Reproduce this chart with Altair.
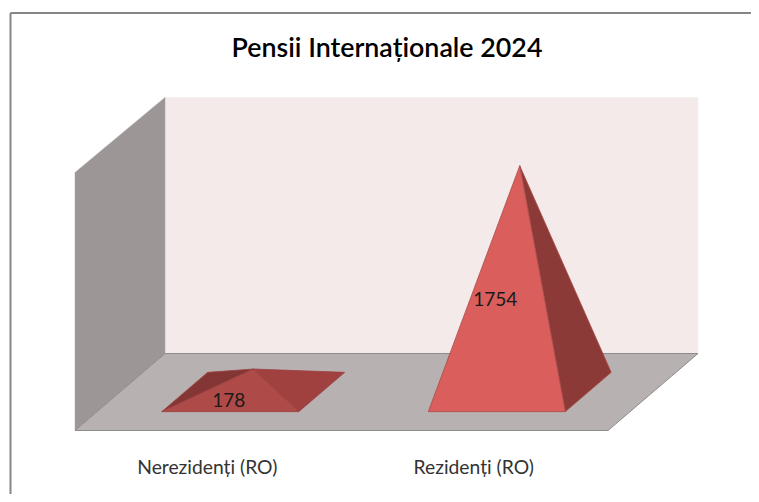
import altair as alt
import pandas as pd

TITLE = "Pensii Internaționale 2024"
CATEGORIES = ["Nerezidenți (RO)", "Rezidenți (RO)"]
VALUES = [178, 1754]
AXIS_MAX = 2000
WALL_BACK_TOP = 1985

# Oblique projection of the 3-D chart box (screen pixels per model unit)
X0, Y0 = 75, 430.5
CAT_W, DX, DY = 266.5, 90, 77
V_PX = 258 / AXIS_MAX
W, H = 743, 486
FONT = "Lato"


def xs():
    return alt.Scale(domain=[8, 8 + W], range=[0, W], nice=False, zero=False)


def ys():
    return alt.Scale(domain=[8 + H, 8], range=[H, 0], nice=False, zero=False)


def proj(cat, depth, value=0):
    return X0 + cat * CAT_W + depth * DX, Y0 - depth * DY - value * V_PX


def face(points, fill, stroke, sw=1.0):
    pts = list(points) + [points[0]]
    df = pd.DataFrame({"x": [p[0] for p in pts], "y": [p[1] for p in pts], "o": range(len(pts))})
    return alt.Chart(df).mark_line(fill=fill, stroke=stroke, strokeWidth=sw, strokeJoin="miter", clip=True).encode(
        x=alt.X("x:Q", scale=xs(), axis=None),
        y=alt.Y("y:Q", scale=ys(), axis=None),
        order=alt.Order("o:Q"),
    )


def label(text, x, y, size, color, weight="normal"):
    df = pd.DataFrame({"x": [x], "y": [y], "t": [text]})
    return alt.Chart(df).mark_text(font=FONT, fontSize=size, color=color, fontWeight=weight, align="center", baseline="middle").encode(
        x=alt.X("x:Q", scale=xs(), axis=None),
        y=alt.Y("y:Q", scale=ys(), axis=None),
        text="t:N",
    )


layers = []
# frame
layers.append(face([(10.5, 13), (10.5, 600), (900, 600), (900, 13)], "#ffffff", "#868686", 2))
# walls and floor
layers.append(face([proj(0, 1, WALL_BACK_TOP), proj(2, 1, WALL_BACK_TOP), proj(2, 1), proj(0, 1)], "#f5eaea", "#f5eaea", 0.5))
layers.append(face([proj(0, 0, AXIS_MAX), proj(0, 1, WALL_BACK_TOP), proj(0, 1), proj(0, 0)], "#9c9696", "#a8a3a3", 0.5))
layers.append(face([proj(0, 0), proj(2, 0), proj(2, 1), proj(0, 1)], "#b8b1b1", "#8f8b8b", 1))

# pyramids: [front, left, right] shades
SHADES = [
    {"front": "#ae4a48", "left": "#843634", "right": "#a04140", "edge": "#9a4241"},
    {"front": "#d95e5c", "left": "#843634", "right": "#8c3a38", "edge": "#a84b49"},
]
BASE_D = (0.245, 0.755)
BASE_HALF = 0.257
for i, (cat, v) in enumerate(zip(CATEGORIES, VALUES)):
    c = i + 0.5
    fl = proj(c - BASE_HALF, BASE_D[0])
    fr = proj(c + BASE_HALF, BASE_D[0])
    bl = proj(c - BASE_HALF, BASE_D[1])
    br = proj(c + BASE_HALF, BASE_D[1])
    apex = proj(c, sum(BASE_D) / 2, v)
    s = SHADES[i]
    if i == 0:
        layers.append(face([fl, bl, apex], s["left"], s["edge"], 0.8))
    layers.append(face([fr, br, apex], s["right"], s["edge"], 0.8))
    layers.append(face([fl, fr, apex], s["front"], s["edge"], 0.8))
    layers.append(label(str(v), apex[0] - 24.5, (fl[1] + apex[1]) / 2 + 11, 19, "#1a1a1a"))
    layers.append(label(cat, proj(c, 0)[0] - 1, 468, 19.3, "#333333"))

layers.append(label(TITLE, 387, 49, 26.8, "#000000", 600))

chart = alt.layer(*layers).properties(
    width=W, height=H, padding=0, autosize=alt.AutoSizeParams(type="none"), background="white"
).configure_view(stroke=None)

chart.save("out.html", embed_options={"renderer": "svg", "actions": False})
